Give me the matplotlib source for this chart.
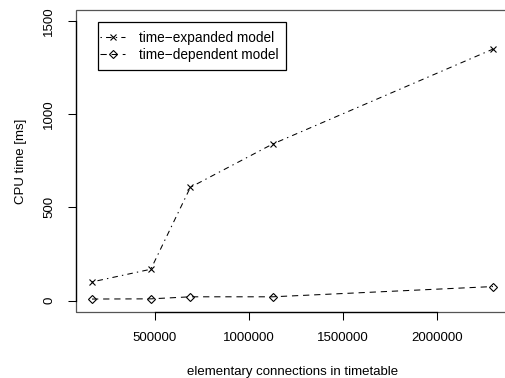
import matplotlib
matplotlib.use("Agg")
import matplotlib.pyplot as plt
from matplotlib.patches import Rectangle

plt.rcParams['font.family'] = ['Liberation Sans', 'DejaVu Sans']
plt.rcParams['font.size'] = 9.5
plt.rcParams['lines.scale_dashes'] = False

# data
connections = [167000, 479000, 689000, 1125000, 2295000]
time_expanded = [100, 168, 608, 840, 1350]
time_dependent = [8, 9, 20, 20, 75]
labels = ["time\u2212expanded model", "time\u2212dependent model"]
xticks = [500000, 1000000, 1500000, 2000000]
yticks = [0, 500, 1000, 1500]

W, H = 506, 378
fig = plt.figure(figsize=(W / 100, H / 100), dpi=100)
left, right, top, bottom = 76, 509, 10, 311.7
ax = fig.add_axes([left / W, 1 - bottom / H, (right - left) / W, (bottom - top) / H])

ax.plot(connections, time_expanded, color='black', lw=0.75, dashes=(1, 3, 4, 3),
        marker='x', markersize=5, markeredgewidth=0.8, label=labels[0])
ax.plot(connections, time_dependent, color='black', lw=0.75, dashes=(4.5, 3.5),
        marker='D', markersize=4.2, markerfacecolor='none', markeredgewidth=0.8,
        label=labels[1])

# R-style 4% expansion
xmin, xmax = min(connections), max(connections)
dx = (xmax - xmin) * 0.04
ax.set_xlim(xmin - dx, xmax + dx)
ax.set_ylim(0 - 1500 * 0.04, 1500 + 1500 * 0.04)

ax.set_xticks(xticks)
ax.set_xticklabels([str(v) for v in xticks])
ax.set_yticks(yticks)
ax.set_yticklabels([str(v) for v in yticks], rotation=90, va='center')
ax.tick_params(direction='out', length=5.8, width=0.75, colors='black', pad=8.5)
ax.tick_params(axis='y', pad=9)

for side in ['top', 'right']:
    ax.spines[side].set_visible(False)
ax.spines['bottom'].set_bounds(xticks[0], xticks[-1])
ax.spines['left'].set_bounds(yticks[0], yticks[-1])
for side in ['bottom', 'left']:
    ax.spines[side].set_linewidth(0.9)
    ax.spines[side].set_color('black')
ax.add_patch(Rectangle((0, 0), 1, 1, transform=ax.transAxes, fill=False,
                       edgecolor='#555555', lw=0.9, clip_on=False, zorder=0.5))

ax.set_xlabel("elementary connections in timetable", labelpad=16.5)
ax.set_ylabel("CPU time [ms]", labelpad=12)

# legend (frame drawn separately for R-like asymmetric padding)
leg = ax.legend(loc='upper left', bbox_to_anchor=(100 / W, 1 - 31 / H),
                bbox_transform=fig.transFigure, frameon=False,
                borderpad=0, handlelength=1.85, handletextpad=1.0,
                labelspacing=0.22, borderaxespad=0, fontsize=9.8)
fig.patches.append(Rectangle((98 / W, 1 - 70 / H), (286 - 98) / W, 48 / H,
                             transform=fig.transFigure, fill=False,
                             edgecolor='black', lw=0.9))

fig.savefig("out.png", dpi=100)
